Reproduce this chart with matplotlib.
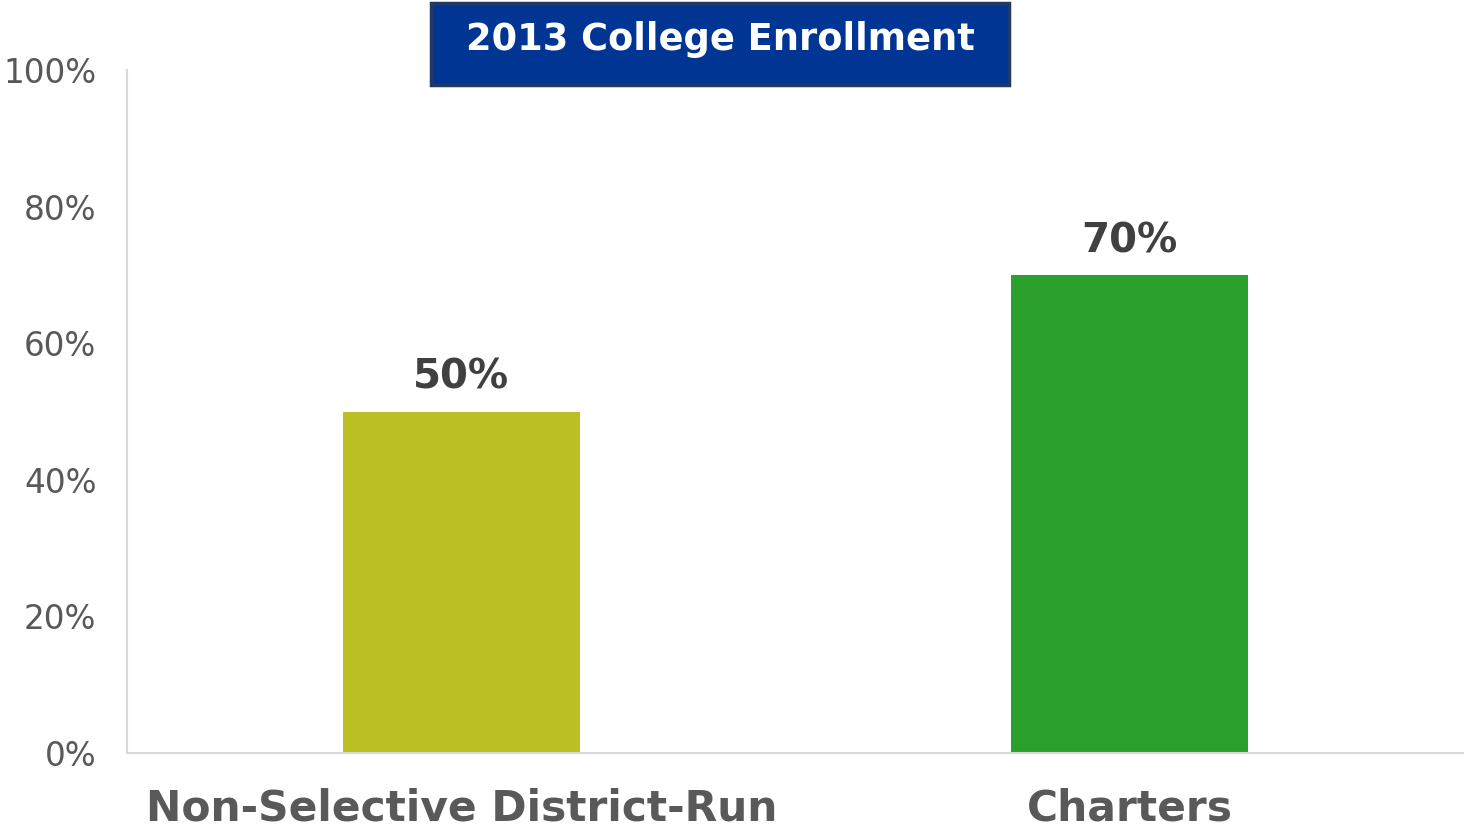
import matplotlib.pyplot as plt
from matplotlib.patches import FancyBboxPatch

categories = ['Non-Selective District-Run', 'Charters']
enrollment = [50, 70]
bar_colors = ['#bcbf24', '#2ca02c']
yticks = [0, 20, 40, 60, 80, 100]

plt.rcParams['font.family'] = ['DejaVu Sans']

fig = plt.figure(figsize=(14.64, 8.32), dpi=100)
ax = fig.add_axes([127 / 1464, 79 / 832, 1 - 127 / 1464, 683 / 832])

x = range(len(categories))
ax.bar(x, enrollment, width=0.355, color=bar_colors, zorder=2)
for xi, v in zip(x, enrollment):
    ax.text(xi, v + 2, f'{v}%', ha='center', va='bottom',
            fontsize=29, fontweight='bold', color='#404040')

ax.set_xlim(-0.5, 1.5)
ax.set_ylim(0, 100)
ax.set_yticks(yticks)
ax.set_yticklabels([f'{t}%' for t in yticks], fontsize=23.5, color='#595959')
ax.set_xticks(list(x))
ax.set_xticklabels(categories, fontsize=30.5, fontweight='bold', color='#595959')
ax.tick_params(axis='both', length=0)
ax.tick_params(axis='y', pad=22)
ax.tick_params(axis='x', pad=25)

for side in ['top', 'right']:
    ax.spines[side].set_visible(False)
for side in ['left', 'bottom']:
    ax.spines[side].set_color('#d9d9d9')
    ax.spines[side].set_linewidth(1.5)

# title banner
box = FancyBboxPatch((431 / 1464, 1 - 85 / 832), 578 / 1464, 82 / 832,
                     boxstyle='square,pad=0', transform=fig.transFigure,
                     facecolor='#003594', edgecolor='#1f3864', linewidth=2.5)
fig.patches.append(box)
fig.text(720 / 1464, 1 - 39 / 832, '2013 College Enrollment', ha='center', va='center',
         fontsize=26.5, fontweight='bold', color='white')

fig.savefig('out.png', dpi=100)
